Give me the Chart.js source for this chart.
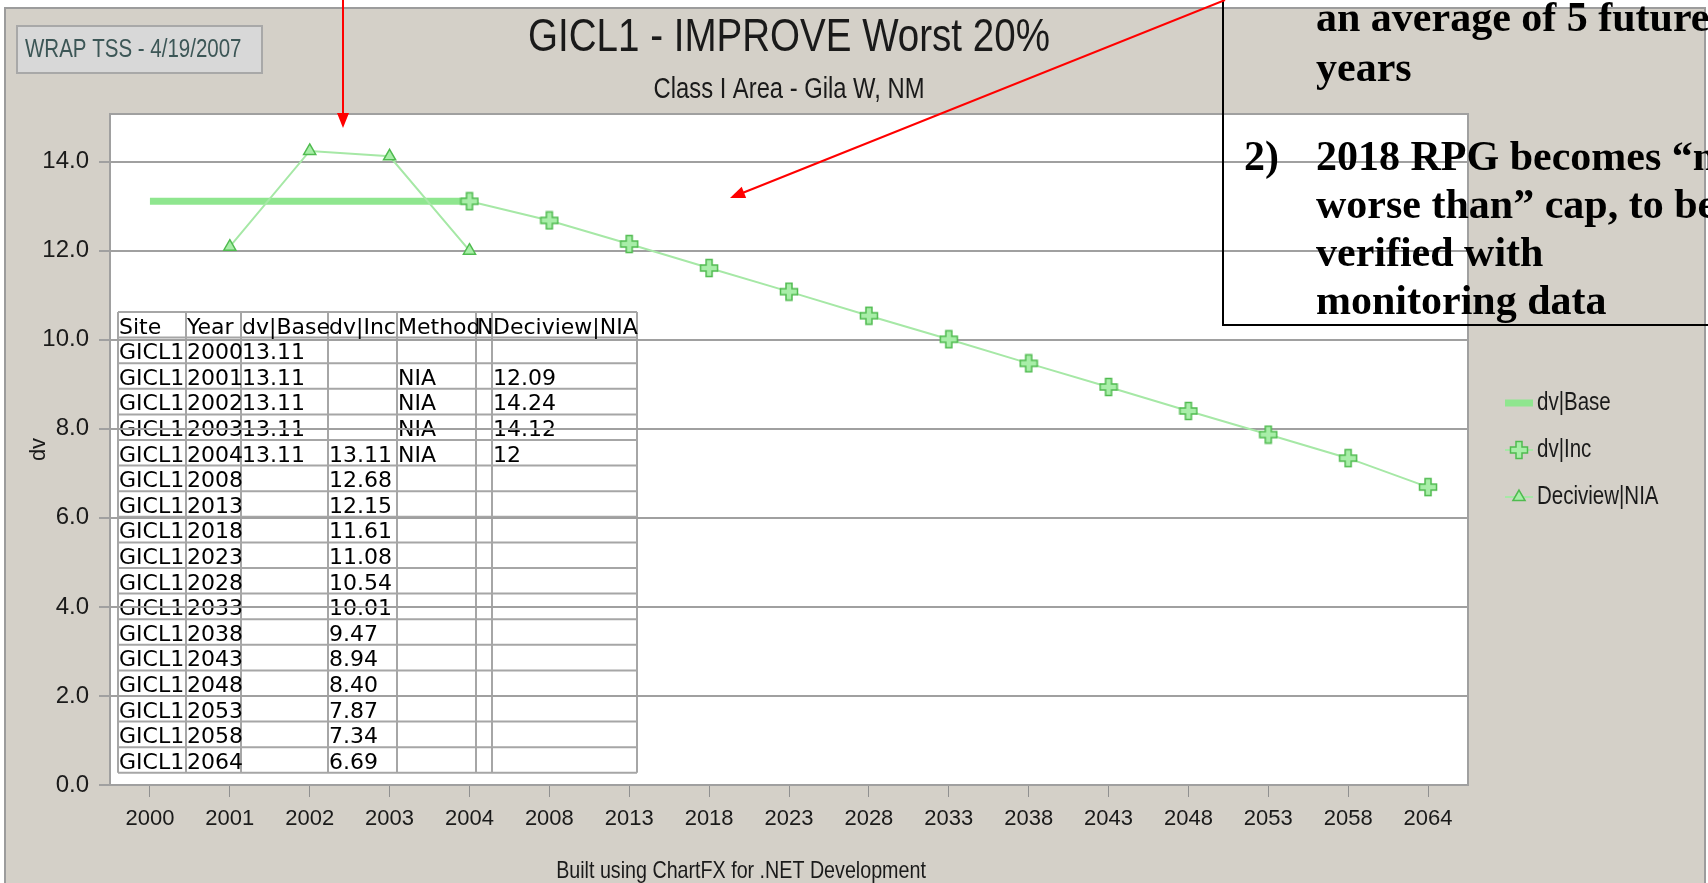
<!DOCTYPE html>
<html>
<head>
<meta charset="utf-8">
<script src="https://cdn.jsdelivr.net/npm/chart.js@4.4.1/dist/chart.umd.min.js"></script>
<style>
  body { margin: 0; background: #fff; }
  #contenedor { width: 1708px; height: 883px; }
</style>
</head>
<body>
<div id="contenedor"><canvas id="grafico"></canvas></div>
<script>
const sitio = "GICL1";
const anios = ["2000", "2001", "2002", "2003", "2004", "2008", "2013", "2018", "2023",
               "2028", "2033", "2038", "2043", "2048", "2053", "2058", "2064"];
const dvBase = [13.11, 13.11, 13.11, 13.11, 13.11, null, null, null, null,
                null, null, null, null, null, null, null, null];
const dvInc = [null, null, null, null, 13.11, 12.68, 12.15, 11.61, 11.08,
               10.54, 10.01, 9.47, 8.94, 8.40, 7.87, 7.34, 6.69];
const deciviewNia = [null, 12.09, 14.24, 14.12, 12, null, null, null, null,
                     null, null, null, null, null, null, null, null];
const encabezados = ["Site", "Year", "dv|Base", "dv|Inc", "Method", "N", "Deciview|NIA"];

const FUENTE = "'Liberation Sans', Arial, sans-serif";
const VERDE_BASE = "#8fe68f";
const VERDE_LINEA = "#a6e8a6";
const VERDE_RELLENO = "#a8eea8";
const VERDE_BORDE = "#4fbb4f";

function crearCruz(tam, brazo) {
    const c = document.createElement("canvas");
    c.width = tam + 3;
    c.height = tam + 3;
    const g = c.getContext("2d");
    const m = c.width / 2, h = tam / 2, b = brazo / 2;
    g.beginPath();
    g.moveTo(m - b, m - h); g.lineTo(m + b, m - h); g.lineTo(m + b, m - b);
    g.lineTo(m + h, m - b); g.lineTo(m + h, m + b); g.lineTo(m + b, m + b);
    g.lineTo(m + b, m + h); g.lineTo(m - b, m + h); g.lineTo(m - b, m + b);
    g.lineTo(m - h, m + b); g.lineTo(m - h, m - b); g.lineTo(m - b, m - b);
    g.closePath();
    g.fillStyle = VERDE_RELLENO;
    g.fill();
    g.strokeStyle = VERDE_BORDE;
    g.lineWidth = 1.5;
    g.stroke();
    return c;
}
const cruz = crearCruz(17, 6);

function formatear(v, fijo) {
    if (v == null) return "";
    return fijo ? v.toFixed(2) : String(v);
}

// texto estrecho (la fuente del original es condensada)
function textoAngosto(ctx, txt, x, y, size, align, color) {
    ctx.save();
    ctx.font = size + "px " + FUENTE;
    ctx.fillStyle = color || "#1a1a1a";
    ctx.translate(x, y);
    ctx.scale(0.82, 1);
    ctx.textAlign = align;
    ctx.textBaseline = "middle";
    ctx.fillText(txt, 0, 0);
    ctx.restore();
}

function dibujarTabla(ctx) {
    const colsX = [118, 186, 241, 328, 397, 476, 492, 637];
    const top = 312, alto = 25.6;
    const filas = [encabezados];
    for (let i = 0; i < anios.length; i++) {
        filas.push([sitio, anios[i], formatear(dvBase[i], true), formatear(dvInc[i], true),
                    deciviewNia[i] != null ? "NIA" : "", "", formatear(deciviewNia[i], false)]);
    }
    const fondoY = top + alto * filas.length;
    ctx.strokeStyle = "#a6a6a6";
    ctx.lineWidth = 2;
    for (let r = 0; r <= filas.length; r++) {
        ctx.beginPath();
        ctx.moveTo(colsX[0], top + r * alto);
        ctx.lineTo(colsX[colsX.length - 1], top + r * alto);
        ctx.stroke();
    }
    for (const x of colsX) {
        ctx.beginPath();
        ctx.moveTo(x, top);
        ctx.lineTo(x, fondoY);
        ctx.stroke();
    }
    ctx.fillStyle = "#000";
    ctx.font = "22px 'DejaVu Sans'";
    ctx.textAlign = "left";
    ctx.textBaseline = "alphabetic";
    filas.forEach((fila, r) => {
        fila.forEach((txt, c) => {
            ctx.fillText(txt, colsX[c] + 1, top + r * alto + 21.5);
        });
    });
}

function flecha(ctx, x1, y1, x2, y2) {
    const ang = Math.atan2(y2 - y1, x2 - x1);
    ctx.strokeStyle = "#ff0000";
    ctx.fillStyle = "#ff0000";
    ctx.lineWidth = 2;
    ctx.beginPath();
    ctx.moveTo(x1, y1);
    ctx.lineTo(x2 - Math.cos(ang) * 10, y2 - Math.sin(ang) * 10);
    ctx.stroke();
    ctx.beginPath();
    ctx.moveTo(x2, y2);
    ctx.lineTo(x2 - Math.cos(ang) * 15 + Math.sin(ang) * 6, y2 - Math.sin(ang) * 15 - Math.cos(ang) * 6);
    ctx.lineTo(x2 - Math.cos(ang) * 15 - Math.sin(ang) * 6, y2 - Math.sin(ang) * 15 + Math.cos(ang) * 6);
    ctx.closePath();
    ctx.fill();
}

const decorado = {
    id: "decorado",
    beforeDraw(chart) {
        const ctx = chart.ctx, a = chart.chartArea;
        ctx.save();
        ctx.fillStyle = "#fff";
        ctx.fillRect(0, 0, chart.width, chart.height);
        ctx.fillStyle = "#d4d0c8";
        ctx.fillRect(5, 8, 1700, 880);
        ctx.strokeStyle = "#9c9c9c";
        ctx.lineWidth = 2;
        ctx.strokeRect(5, 8, 1700, 880);
        ctx.fillStyle = "#fff";
        ctx.fillRect(a.left, a.top, a.right - a.left, a.bottom - a.top);
        dibujarTabla(ctx);
        ctx.restore();
    },
    beforeDatasetsDraw(chart) {
        const ctx = chart.ctx, a = chart.chartArea;
        ctx.save();
        ctx.strokeStyle = "#a0a0a0";
        ctx.lineWidth = 2;
        ctx.strokeRect(a.left, a.top, a.right - a.left, a.bottom - a.top);
        ctx.restore();
    },
    afterDraw(chart) {
        const ctx = chart.ctx, a = chart.chartArea;
        const cx = (a.left + a.right) / 2;
        ctx.save();

        // titulos y pie
        textoAngosto(ctx, "GICL1 - IMPROVE Worst 20%", cx, 38, 47, "center");
        textoAngosto(ctx, "Class I Area - Gila W, NM", cx, 90, 29, "center");
        textoAngosto(ctx, "Built using ChartFX for .NET Development", 741, 871, 24, "center");

        // etiqueta WRAP
        ctx.fillStyle = "#d8d8d8";
        ctx.fillRect(17, 26, 245, 47);
        ctx.strokeStyle = "#a8a8a8";
        ctx.lineWidth = 2;
        ctx.strokeRect(17, 26, 245, 47);
        textoAngosto(ctx, "WRAP TSS - 4/19/2007", 25, 50, 25, "left", "#3c5656");

        // leyenda
        const leyY = [403, 450, 497];
        chart.data.datasets.forEach((ds, i) => {
            const y = leyY[i];
            ctx.strokeStyle = ds.borderColor;
            ctx.lineWidth = ds.borderWidth;
            ctx.beginPath();
            ctx.moveTo(1505, y);
            ctx.lineTo(1533, y);
            ctx.stroke();
            if (ds.pointStyle === cruz) {
                ctx.drawImage(cruz, 1519 - cruz.width / 2, y - cruz.height / 2);
            } else if (ds.pointStyle === "triangle") {
                const r = ds.pointRadius;
                ctx.beginPath();
                ctx.moveTo(1519, y - r);
                ctx.lineTo(1519 + r * 0.866, y + r * 0.5);
                ctx.lineTo(1519 - r * 0.866, y + r * 0.5);
                ctx.closePath();
                ctx.fillStyle = ds.pointBackgroundColor;
                ctx.fill();
                ctx.strokeStyle = ds.pointBorderColor;
                ctx.lineWidth = ds.pointBorderWidth;
                ctx.stroke();
            }
            textoAngosto(ctx, ds.label, 1537, y, 25, "left");
        });

        // cuadro de texto superpuesto
        ctx.strokeStyle = "#000";
        ctx.lineWidth = 2;
        ctx.beginPath();
        ctx.moveTo(1223, 0);
        ctx.lineTo(1223, 325);
        ctx.lineTo(1708, 325);
        ctx.stroke();
        ctx.fillStyle = "#000";
        ctx.textAlign = "left";
        ctx.textBaseline = "alphabetic";
        ctx.font = "bold 42px 'Liberation Serif', 'Times New Roman', serif";
        const lineas = [
            [1316, 31, "an average of 5 future"],
            [1316, 81, "years"],
            [1244, 170, "2)"],
            [1316, 170, "2018 RPG becomes \u201cnot"],
            [1316, 218, "worse than\u201d cap, to be"],
            [1316, 266, "verified with"],
            [1316, 314, "monitoring data"]
        ];
        for (const [x, y, t] of lineas) ctx.fillText(t, x, y);

        // flechas rojas
        flecha(ctx, 343, 0, 343, 128);
        flecha(ctx, 1225, 0, 730, 198);

        ctx.restore();
    }
};

new Chart("grafico", {
    type: "line",
    data: {
        labels: anios,
        datasets: [
            {
                label: "dv|Base",
                data: dvBase,
                borderColor: VERDE_BASE,
                borderWidth: 7,
                pointRadius: 0,
                order: 3
            },
            {
                label: "dv|Inc",
                data: dvInc,
                borderColor: VERDE_LINEA,
                borderWidth: 2,
                pointStyle: cruz,
                pointRadius: 8,
                order: 1
            },
            {
                label: "Deciview|NIA",
                data: deciviewNia,
                borderColor: VERDE_LINEA,
                borderWidth: 2,
                pointStyle: "triangle",
                pointRadius: 7,
                pointBackgroundColor: VERDE_RELLENO,
                pointBorderColor: VERDE_BORDE,
                pointBorderWidth: 1.5,
                order: 2
            }
        ]
    },
    options: {
        responsive: true,
        maintainAspectRatio: false,
        animation: false,
        devicePixelRatio: 1,
        layout: { padding: { left: 0, top: 114, right: 240, bottom: 0 } },
        plugins: {
            legend: { display: false },
            title: { display: false },
            tooltip: { enabled: false }
        },
        scales: {
            x: {
                offset: true,
                afterFit(s) { s.height = 98; },
                ticks: {
                    padding: 9,
                    color: "#1a1a1a",
                    autoSkip: false,
                    maxRotation: 0,
                    font: { family: FUENTE, size: 22 }
                },
                grid: { drawOnChartArea: false, drawTicks: true, tickLength: 12, color: "#909090", lineWidth: 1 },
                border: { display: false }
            },
            y: {
                min: 0,
                max: 15.07,
                afterFit(s) { s.width = 110; },
                ticks: {
                    stepSize: 2,
                    includeBounds: false,
                    padding: 10,
                    color: "#1a1a1a",
                    font: { family: FUENTE, size: 24 },
                    callback: v => v.toFixed(1)
                },
                grid: { color: "#a0a0a0", lineWidth: 2, tickLength: 11 },
                border: { display: false },
                title: {
                    display: true,
                    text: "dv",
                    color: "#1a1a1a",
                    font: { family: FUENTE, size: 22 },
                    padding: { top: 26, bottom: 0 }
                }
            }
        }
    },
    plugins: [decorado]
});
</script>
</body>
</html>
